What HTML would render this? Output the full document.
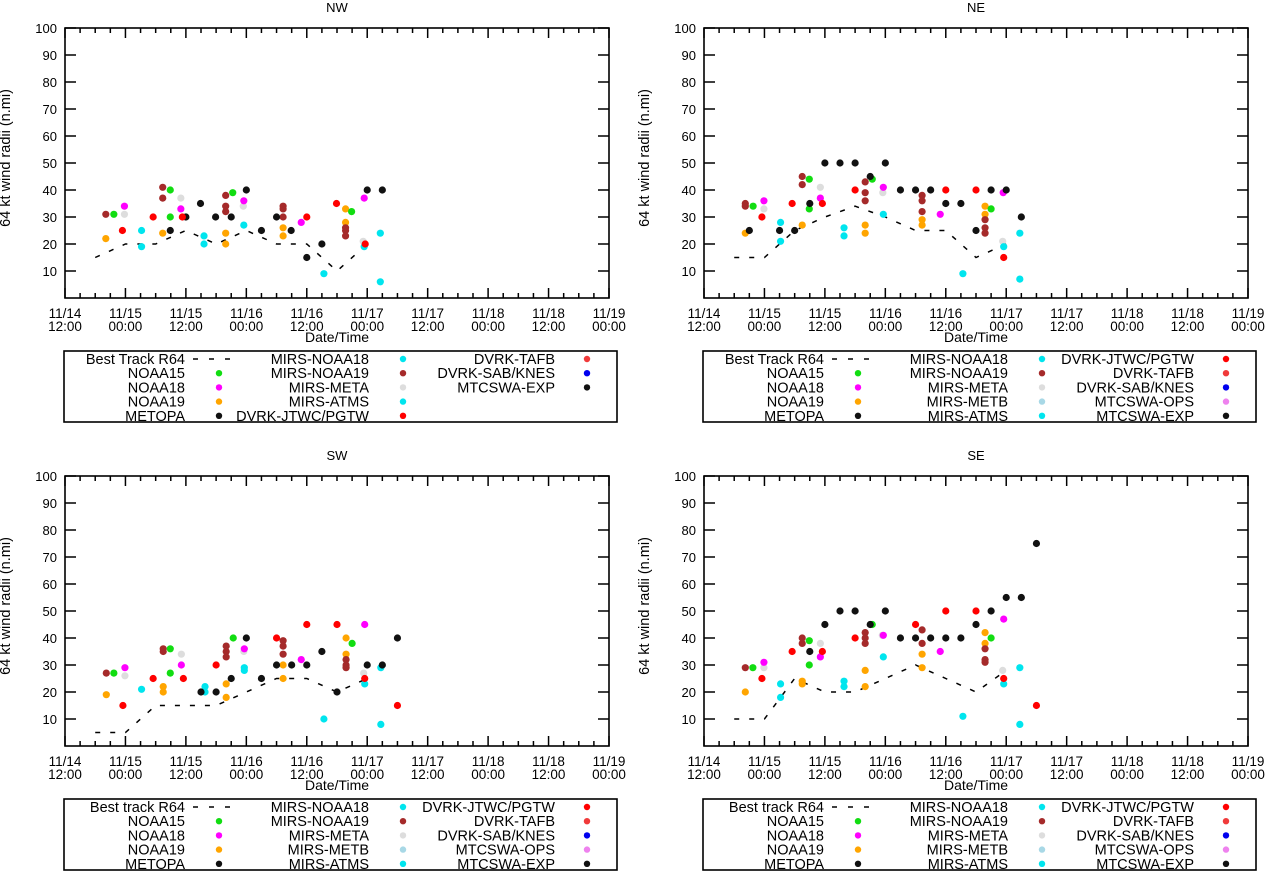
<!DOCTYPE html>
<html><head><meta charset="utf-8">
<style>
html,body{margin:0;padding:0;background:#fff;}
svg{display:block;font-family:"Liberation Sans",Arial,sans-serif;}
</style></head>
<body>
<svg id="chart" width="1267" height="871" viewBox="0 0 1267 871" xmlns="http://www.w3.org/2000/svg"></svg>
<script>
// ---- data (time in hours since 11/14 12:00, radius in n.mi) ----
const xTickTop = ["11/14","11/15","11/15","11/16","11/16","11/17","11/17","11/18","11/18","11/19"];
const xTickBot = ["12:00","00:00","12:00","00:00","12:00","00:00","12:00","00:00","12:00","00:00"];
const yTicks = [10,20,30,40,50,60,70,80,90,100];

const NW_BEST = [[6,15],[12,20],[18,20],[24,25],[30,20],[36,25],[42,20],[48,20],[54,10],[60,20]];
const NW_NOAA15 = [[9.7,31],[20.9,40],[20.9,30],[33.3,39],[56.9,32]];
const NW_NOAA18 = [[11.8,34],[23,33],[35.5,36],[46.9,28],[59.4,37]];
const NW_NOAA19 = [[8.1,22],[19.4,24],[31.9,24],[31.9,20],[43.3,26],[43.3,23],[55.7,33],[55.7,28]];
const NW_METOPA = [[20.9,25],[24,30],[29.9,30],[33,30],[39,25],[42,30],[44.9,25],[48,15],[51,20]];
const NW_MTCSWA = [[26.9,35],[36,40],[60,40],[63,40]];
const NW_MIRS18 = [[15.2,25],[15.2,19],[27.6,23],[27.6,20],[35.5,27],[51.4,9],[59.4,19],[62.6,24],[62.6,6]];
const NW_MIRS19 = [[8.1,31],[19.4,41],[19.4,37],[31.9,38],[31.9,34],[31.9,32],[43.3,34],[43.3,33],[43.3,30],[55.7,26],[55.7,25],[55.7,23]];
const NW_META = [[11.8,31],[23,37],[35.4,34],[59.2,21]];
const NW_JTWC = [[11.4,25],[17.5,30],[23.3,30],[48,30],[53.9,35],[59.6,20]];

const NE_BEST = [[6,15],[12,15],[18,25],[24,30],[30,34],[36,30],[42,25],[48,25],[54,15],[60,20]];
const NE_NOAA15 = [[9.75,34],[20.9,44],[20.9,33],[33.4,44],[57,33]];
const NE_NOAA18 = [[11.9,36],[23.1,37],[35.6,41],[46.9,31],[59.4,39]];
const NE_NOAA19 = [[8.2,24],[19.5,27],[32,27],[32,24],[43.3,29],[43.3,27],[55.8,34],[55.8,31]];
const NE_METOPA = [[9,25],[15,25],[18,25],[21,35],[33,45],[48,35],[51,35],[54,25],[63,30]];
const NE_MTCSWA = [[24,50],[27,50],[30,50],[36,50],[39,40],[42,40],[45,40],[57,40],[60,40]];
const NE_MIRS18 = [[15.2,28],[15.2,21],[27.8,26],[27.8,23],[35.6,31],[51.4,9],[59.5,19],[62.7,24],[62.7,7]];
const NE_MIRS19 = [[8.2,35],[8.2,34],[19.5,45],[19.5,42],[32,43],[32,39],[32,36],[43.3,38],[43.3,36],[43.3,32],[55.8,29],[55.8,26],[55.8,24]];
const NE_META = [[11.9,33],[23.1,41],[35.5,39],[59.3,21]];
const NE_JTWC = [[11.5,30],[17.5,35],[23.5,35],[30,40],[48,40],[54,40],[59.5,15]];

const SW_BEST = [[6,5],[12,5],[18,15],[24,15],[30,15],[36,20],[42,25],[48,25],[54,20],[60,25]];
const SW_NOAA15 = [[9.7,27],[20.9,36],[20.9,27],[33.4,40],[57,38]];
const SW_NOAA18 = [[11.9,29],[23.1,30],[35.6,36],[46.9,32],[59.5,45]];
const SW_NOAA19 = [[8.2,19],[19.5,22],[19.5,20],[32,23],[32,18],[43.3,30],[43.3,25],[55.8,40],[55.8,34]];
const SW_METOPA = [[27,20],[30,20],[33,25],[39,25],[42,30],[45,30],[48,30],[54,20],[60,30]];
const SW_MTCSWA = [[36,40],[51,35],[63,30],[66,40]];
const SW_MIRS18 = [[15.2,21],[27.8,22],[27.8,20],[35.6,29],[35.6,28],[51.4,10],[59.5,23],[62.7,29],[62.7,8]];
const SW_MIRS19 = [[8.2,27],[19.5,36],[19.5,35],[32,37],[32,35],[32,33],[43.3,39],[43.3,37],[43.3,34],[55.8,32],[55.8,30],[55.8,29]];
const SW_META = [[11.9,26],[23.1,34],[35.5,35],[59.3,27]];
const SW_JTWC = [[11.5,15],[17.5,25],[23.5,25],[30,30],[42,40],[48,45],[54,45],[59.5,25],[66,15]];

const SE_BEST = [[6,10],[12,10],[18,25],[24,20],[30,20],[36,25],[42,30],[48,25],[54,20],[60,28]];
const SE_NOAA15 = [[9.7,29],[20.9,39],[20.9,30],[33.4,45],[57,40]];
const SE_NOAA18 = [[11.9,31],[23.1,33],[35.6,41],[46.9,35],[59.5,47]];
const SE_NOAA19 = [[8.2,20],[19.5,24],[19.5,23],[32,28],[32,22],[43.3,34],[43.3,29],[55.8,42],[55.8,38]];
const SE_METOPA = [[21,35],[24,45],[33,45],[39,40],[42,40],[45,40],[48,40],[51,40],[54,45]];
const SE_MTCSWA = [[27,50],[30,50],[36,50],[57,50],[60,55],[63,55],[66,75]];
const SE_MIRS18 = [[15.2,23],[15.2,18],[27.8,24],[27.8,22],[35.6,33],[51.4,11],[59.5,23],[62.7,29],[62.7,8]];
const SE_MIRS19 = [[8.2,29],[19.5,40],[19.5,38],[32,42],[32,40],[32,38],[43.3,43],[43.3,38],[55.8,36],[55.8,32],[55.8,31]];
const SE_META = [[11.9,29],[23.1,38],[35.4,41],[59.3,28]];
const SE_JTWC = [[11.5,25],[17.5,35],[23.5,35],[30,40],[42,45],[48,50],[54,50],[59.5,25],[66,15]];

const LEG_NW = [
 [["Best Track R64","dash"],["NOAA15","#11dd11"],["NOAA18","#ff00ff"],["NOAA19","#ffa500"],["METOPA","#111"]],
 [["MIRS-NOAA18","#00e5ee"],["MIRS-NOAA19","#a52a2a"],["MIRS-META","#dddddd"],["MIRS-ATMS","#00e5ee"],["DVRK-JTWC/PGTW","#ff0000"]],
 [["DVRK-TAFB","#f03a3a"],["DVRK-SAB/KNES","#0000ee"],["MTCSWA-EXP","#111"]]
];
const LEG_FULL_COL2 = [["MIRS-NOAA18","#00e5ee"],["MIRS-NOAA19","#a52a2a"],["MIRS-META","#dddddd"],["MIRS-METB","#a8d8e6"],["MIRS-ATMS","#00e5ee"]];
const LEG_FULL_COL3 = [["DVRK-JTWC/PGTW","#ff0000"],["DVRK-TAFB","#f03a3a"],["DVRK-SAB/KNES","#0000ee"],["MTCSWA-OPS","#ee82ee"],["MTCSWA-EXP","#111"]];

const NS = "http://www.w3.org/2000/svg";
const svg = document.getElementById("chart");
function mk(tag, attrs, parent){
  const e = document.createElementNS(NS, tag);
  for (const k in attrs) e.setAttribute(k, attrs[k]);
  (parent||svg).appendChild(e);
  return e;
}
const W = 544, H = 270;
function drawPanel(name, L, T, best, series, legend, bestLabel){
  const g = mk("g", {});
  
  
  const xs = t => L + t * W / 108;
  const ys = v => T + H - v * H / 100;
  const tt = mk("text", {x: L + W/2, y: T - 16, "font-size": 13, "text-anchor": "middle"}, g);
  tt.textContent = name;
  
  
  yTicks.forEach(v => {
    const y = ys(v);
    mk("line", {x1: L, x2: L + 11, y1: y, y2: y, stroke: "#000", "stroke-width": 1.5}, g);
    mk("line", {x1: L + W - 11, x2: L + W, y1: y, y2: y, stroke: "#000", "stroke-width": 1.5}, g);
    const lb = mk("text", {x: L - 8, y: y + 5, "font-size": 13, "text-anchor": "end"}, g);
    lb.textContent = v;
    
    
  });
  for (let k = 0; k <= 36; k++) {
    const x = xs(k * 3), major = k % 4 === 0, len = major ? 10 : 5;
    mk("line", {x1: x, x2: x, y1: T + H, y2: T + H - len, stroke: "#000", "stroke-width": 1.5}, g);
    mk("line", {x1: x, x2: x, y1: T, y2: T + len, stroke: "#000", "stroke-width": 1.5}, g);
  }
  xTickTop.forEach((s, i) => {
    const x = xs(i * 12);
    const a = mk("text", {x: x, y: T + 290, "font-size": 13.5, "text-anchor": "middle"}, g);
    a.textContent = s;
    
    
    const b = mk("text", {x: x, y: T + 303, "font-size": 13.5, "text-anchor": "middle"}, g);
    b.textContent = xTickBot[i];
    
    
  });
  const xt = mk("text", {x: L + W/2, y: T + 314, "font-size": 14, "text-anchor": "middle"}, g);
  xt.textContent = "Date/Time";
  
  
  const yt = mk("text", {x: 0, y: 0, "font-size": 14.5, "text-anchor": "middle", transform: `translate(${L-55},${T+H/2-5}) rotate(-90)`}, g);
  yt.textContent = "64 kt wind radii (n.mi)";
  
  
  const bl = mk("polyline", {points: best.map(p => xs(p[0]) + "," + ys(p[1])).join(" "), fill: "none", stroke: "#000", "stroke-width": 1.5, "stroke-dasharray": "5,10"}, g);
  
  
  series.forEach(s => {
    s[2].forEach(p => {
      const c = mk("circle", {cx: xs(p[0]), cy: ys(p[1]), r: 3.6, fill: s[1]}, g);
      
      
    });
  });
  const fr = mk("rect", {x: L, y: T, width: W, height: H, fill: "none", stroke: "#000", "stroke-width": 1.6}, g);
  
  
  const lg = mk("g", {}, g);
  
  
  mk("rect", {x: L - 1, y: T + 323, width: 553, height: 71, fill: "#fff", stroke: "#000", "stroke-width": 1.6}, lg);
  const colR = [120, 304, 490], colM = [154, 338, 522];
  legend.forEach((col, ci) => {
    col.forEach((it, ri) => {
      const y = T + 331 + ri * 14.2;
      const label = (ci === 0 && ri === 0) ? bestLabel : it[0];
      const tx = mk("text", {x: L + colR[ci], y: y + 5, "font-size": 14.5, "text-anchor": "end"}, lg);
      tx.textContent = label;
      
      
      if (it[1] === "dash") {
        mk("line", {x1: L + colR[ci] + 8, x2: L + colR[ci] + 46, y1: y, y2: y, stroke: "#000", "stroke-width": 1.5, "stroke-dasharray": "5,11"}, lg);
      } else {
        mk("circle", {cx: L + colM[ci], cy: y, r: 3.2, fill: it[1]}, lg);
      }
    });
  });
}
const cols = {NOAA15:"#11dd11", NOAA18:"#ff00ff", NOAA19:"#ffa500", BLACK:"#111", CYAN:"#00e5ee", BROWN:"#a52a2a", GRAY:"#dddddd", RED:"#ff0000"};
function seriesOf(n15,n18,n19,met,mtc,m18,m19,meta,jtwc){
  return [["mirs-meta",cols.GRAY,meta],["noaa19",cols.NOAA19,n19],["mirs-noaa19",cols.BROWN,m19],["noaa15",cols.NOAA15,n15],
          ["noaa18",cols.NOAA18,n18],["mirs-noaa18",cols.CYAN,m18],["metopa",cols.BLACK,met],["mtcswa-exp",cols.BLACK,mtc],["dvrk-jtwc",cols.RED,jtwc]];
}
const LEG_FULL = [LEG_NW[0], LEG_FULL_COL2, LEG_FULL_COL3];
drawPanel("NW", 65, 28, NW_BEST, seriesOf(NW_NOAA15,NW_NOAA18,NW_NOAA19,NW_METOPA,NW_MTCSWA,NW_MIRS18,NW_MIRS19,NW_META,NW_JTWC), LEG_NW, "Best Track R64");
drawPanel("NE", 704, 28, NE_BEST, seriesOf(NE_NOAA15,NE_NOAA18,NE_NOAA19,NE_METOPA,NE_MTCSWA,NE_MIRS18,NE_MIRS19,NE_META,NE_JTWC), LEG_FULL, "Best Track R64");
drawPanel("SW", 65, 476, SW_BEST, seriesOf(SW_NOAA15,SW_NOAA18,SW_NOAA19,SW_METOPA,SW_MTCSWA,SW_MIRS18,SW_MIRS19,SW_META,SW_JTWC), LEG_FULL, "Best track R64");
drawPanel("SE", 704, 476, SE_BEST, seriesOf(SE_NOAA15,SE_NOAA18,SE_NOAA19,SE_METOPA,SE_MTCSWA,SE_MIRS18,SE_MIRS19,SE_META,SE_JTWC), LEG_FULL, "Best track R64");
</script>
</body></html>
